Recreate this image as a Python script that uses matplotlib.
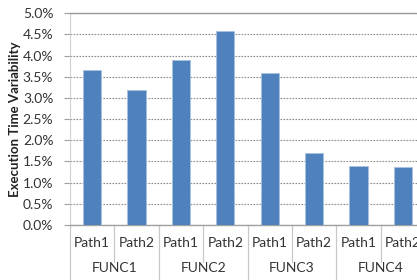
import matplotlib
matplotlib.use("Agg")
import matplotlib.pyplot as plt
import matplotlib.transforms as mtransforms
from matplotlib.ticker import FuncFormatter, MultipleLocator

functions = ["FUNC1", "FUNC2", "FUNC3", "FUNC4"]
paths = ["Path1", "Path2"]
values = [3.66, 3.19, 3.90, 4.58, 3.59, 1.69, 1.40, 1.38]  # percent
y_label = "Execution Time Variability"

plt.rcParams['font.family'] = ['Lato', 'DejaVu Sans']

fig = plt.figure(figsize=(4.17, 2.80), dpi=100)
W, H = 417, 280
ax_l, ax_r, ax_b, ax_t = 70, 425, 225, 13.3
ax = fig.add_axes([ax_l / W, 1 - ax_b / H, (ax_r - ax_l) / W, (ax_b - ax_t) / H])

labels = [p for f in functions for p in paths]
x = list(range(len(labels)))
ax.bar(x, values, width=0.41, color="#4F81BD", edgecolor="#A9C1E0", linewidth=0.6, zorder=3)

ax.set_xlim(-0.5, len(labels) - 0.5)
ax.set_ylim(0, 5.0)
ax.yaxis.set_major_locator(MultipleLocator(0.5))
ax.yaxis.set_major_formatter(FuncFormatter(lambda v, p: f"{v:.1f}%"))
ax.tick_params(axis="y", length=4, width=0.8, color="#A0A0A0", labelsize=10,
               labelcolor="#333333", pad=8)
ax.set_xticks([])
ax.grid(axis="y", color="#8C8C8C", linestyle=(0, (1.5, 1.2)), linewidth=0.8, zorder=0)

for s in ["right"]:
    ax.spines[s].set_visible(False)
ax.spines["top"].set_color("#999999")
ax.spines["top"].set_linewidth(1.0)
ax.spines["left"].set_color("#D0D0D0")
ax.spines["bottom"].set_color("#A0A0A0")
ax.spines["bottom"].set_linewidth(1.0)

ax_h = ax_b - ax_t
trans = mtransforms.blended_transform_factory(ax.transData, ax.transAxes)
bottom_y = -(H - ax_b) / ax_h
path_y = -(243 - ax_b) / ax_h
func_y = -(268 - ax_b) / ax_h
short_y = -(262 - ax_b) / ax_h

for i, lab in enumerate(labels):
    ax.text(i, path_y, lab, transform=trans, ha="center", va="center",
            fontsize=10, color="#333333", clip_on=False)
n_p = len(paths)
for j, f in enumerate(functions):
    c = j * n_p + (n_p - 1) / 2
    ax.text(c, func_y, f, transform=trans, ha="center", va="center",
            fontsize=10, color="#333333", clip_on=False)
    for k in range(1, n_p):
        xs = j * n_p + k - 0.5
        ax.plot([xs, xs], [0, short_y], transform=trans, color="#C8C8C8",
                linewidth=0.9, clip_on=False)
    xs = j * n_p - 0.5
    ax.plot([xs, xs], [0, bottom_y], transform=trans, color="#C8C8C8",
            linewidth=0.9, clip_on=False)

fig.text(15 / W, 1 - (ax_t + ax_b) / 2 / H, y_label, rotation=90, ha="center",
         va="center", fontsize=9.5, fontweight="bold", color="#222222")

fig.savefig("out.png", dpi=100)
